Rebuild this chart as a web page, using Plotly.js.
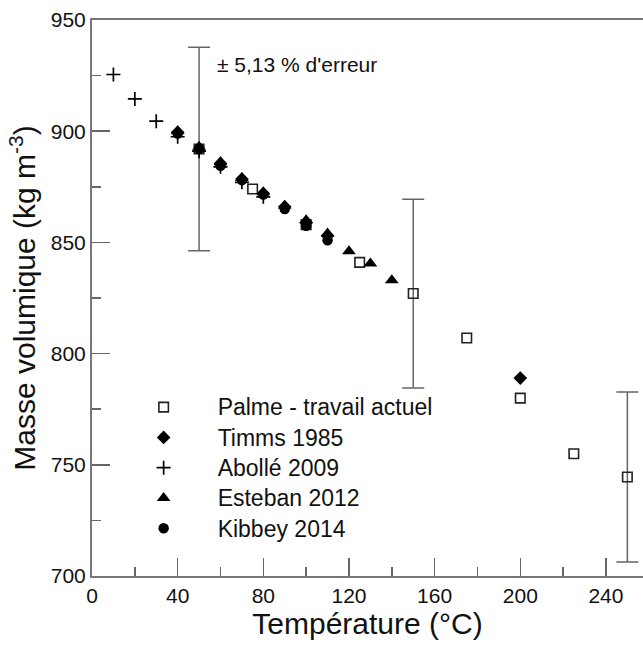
<!DOCTYPE html>
<html>
<head>
<meta charset="utf-8">
<script src="https://cdn.plot.ly/plotly-3.0.1.min.js"></script>
<style>
html,body{margin:0;padding:0;background:#fff;}
#chart{width:643px;height:648px;}
</style>
</head>
<body>
<div id="chart"></div>
<script>
// Palme - travail actuel
const palmeT = [50, 75, 100, 125, 150, 175, 200, 225, 250];
const palmeRho = [892, 874, 858, 841, 827, 807, 780, 755, 744.5];
const errorTemps = [50, 150, 250];
const errorPercent = 5.13;
// Timms 1985
const timmsT = [40, 60, 70, 80, 90, 100, 110, 200];
const timmsRho = [899.5, 885.5, 878.5, 872, 866, 859, 853, 789];
// Abollé 2009
const abolleT = [10, 20, 30, 40, 50, 60, 70, 80];
const abolleRho = [925.5, 914.5, 904.5, 897.5, 891, 884, 877, 870.5];
// Esteban 2012
const estebanT = [40, 50, 60, 70, 80, 90, 100, 110, 120, 130, 140];
const estebanRho = [900, 893, 886, 879, 872.5, 866.5, 860, 854, 846, 840.5, 833];
// Kibbey 2014
const kibbeyT = [40, 50, 60, 70, 80, 90, 100, 110];
const kibbeyRho = [899, 892, 884.5, 878, 871.5, 865, 857.5, 851];

const seriesNames = ['Palme - travail actuel', 'Timms 1985', 'Abollé 2009', 'Esteban 2012', 'Kibbey 2014'];
const xTicks = [0, 40, 80, 120, 160, 200, 240];
const yTicks = [700, 750, 800, 850, 900, 950];

const palmeErr = palmeT.map((t, i) => errorTemps.includes(t) ? palmeRho[i] * errorPercent / 100 : NaN);
const legendName = s => '<span style="font-size:23px">' + s + '</span>';

const FONT = 'Liberation Sans, Arial, sans-serif';
const traces = [
  {x: palmeT, y: palmeRho, name: legendName(seriesNames[0]), type: 'scatter', mode: 'markers',
   marker: {symbol: 'square-open', size: 9.5, color: '#222', line: {width: 1.6, color: '#222'}},
   error_y: {type: 'data', array: palmeErr, visible: true, color: '#666', thickness: 1.5, width: 11}},
  {x: timmsT, y: timmsRho, name: legendName(seriesNames[1]), type: 'scatter', mode: 'markers',
   marker: {symbol: 'diamond', size: 10.5, color: '#000'}},
  {x: abolleT, y: abolleRho, name: legendName(seriesNames[2]), type: 'scatter', mode: 'markers',
   marker: {symbol: 'cross-thin-open', size: 10, color: '#000', line: {width: 1.7, color: '#000'}}},
  {x: estebanT, y: estebanRho, name: legendName(seriesNames[3]), type: 'scatter', mode: 'markers',
   marker: {symbol: 'triangle-up', size: 12, color: '#000'}},
  {x: kibbeyT, y: kibbeyRho, name: legendName(seriesNames[4]), type: 'scatter', mode: 'markers',
   marker: {symbol: 'circle', size: 10.5, color: '#000'}}
];

const layout = {
  width: 643, height: 648,
  margin: {l: 92, r: 0, t: 20, b: 72},
  paper_bgcolor: '#fff', plot_bgcolor: '#fff',
  font: {family: FONT, color: '#111'},
  showlegend: true,
  legend: {x: 0.032, y: 0.34, xanchor: 'left', yanchor: 'top', itemwidth: 98,
           font: {size: 21, family: FONT, color: '#111'}, bgcolor: 'rgba(0,0,0,0)', tracegroupgap: 0},
  xaxis: {
    range: [0, 257.3], tickvals: xTicks, ticktext: xTicks.map(String),
    ticks: 'inside', ticklen: 18, tickwidth: 1.5, tickcolor: '#666',
    minor: {dtick: 20, ticks: 'inside', ticklen: 9, tickwidth: 1.5, tickcolor: '#666', showgrid: false},
    showline: true, linecolor: '#777', linewidth: 2, mirror: true,
    showgrid: false, zeroline: false,
    tickfont: {size: 21, family: FONT, color: '#111'},
    title: {text: 'Température (°C)', font: {size: 30, family: FONT, color: '#111'}, standoff: 6}
  },
  yaxis: {
    range: [700, 950], tickvals: yTicks, ticktext: yTicks.map(String),
    ticks: 'inside', ticklen: 18, tickwidth: 1.5, tickcolor: '#666',
    minor: {dtick: 25, ticks: 'inside', ticklen: 9, tickwidth: 1.5, tickcolor: '#666', showgrid: false},
    showline: true, linecolor: '#777', linewidth: 2,
    showgrid: false, zeroline: false,
    tickfont: {size: 21, family: FONT, color: '#111'},
    title: {text: 'Masse volumique (kg m<sup>-3</sup>)', font: {size: 30, family: FONT, color: '#111'}, standoff: 6}
  },
  annotations: [{
    x: 57.5, y: 930, xref: 'x', yref: 'y', xanchor: 'left', yanchor: 'middle',
    text: '± 5,13 % d\'erreur', showarrow: false, font: {size: 21, family: FONT, color: '#111'}
  }]
};

Plotly.newPlot('chart', traces, layout, {displayModeBar: false, staticPlot: true});
</script>
</body>
</html>
